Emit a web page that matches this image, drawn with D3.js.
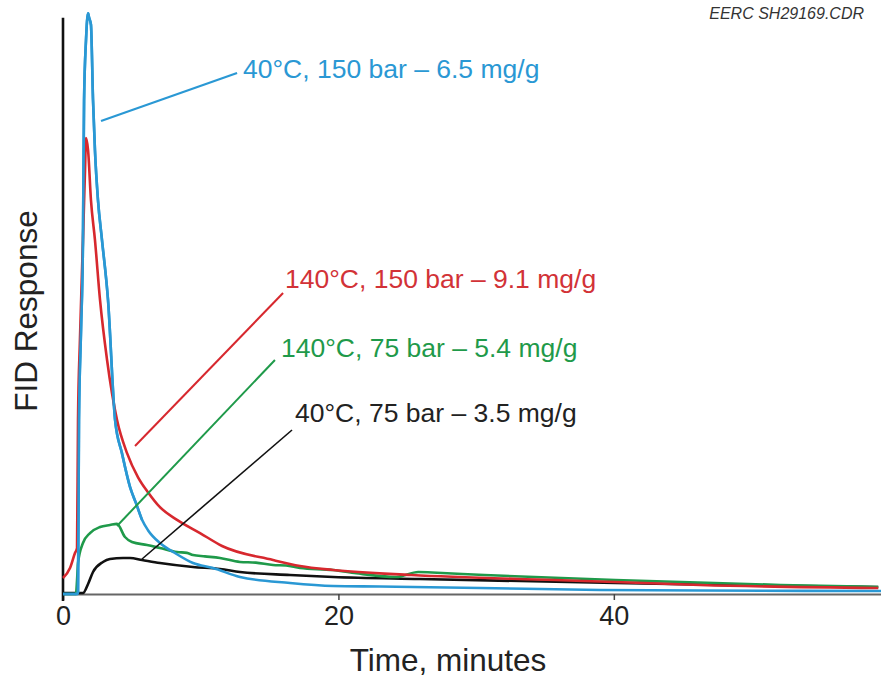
<!DOCTYPE html>
<html><head><meta charset="utf-8">
<script src="https://cdn.jsdelivr.net/npm/d3@7"></script>
<style>
html,body{margin:0;padding:0;background:#fff;}
svg{display:block;font-family:"Liberation Sans",Arial,Helvetica,sans-serif;}
</style></head>
<body>
<svg id="chart" width="881" height="681"></svg>
<script>
// ---- data (time in minutes, FID response in arbitrary units) ----
const blueT  = [0,1.02,1.09,1.16,1.31,1.45,1.53,1.67,1.82,1.89,2.03,2.18,2.32,2.54,2.83,3.27,3.78,4.28,4.87,5.30,5.74,6.17,7.04,8.13,9.44,10.89,12.85,16.48,19.61,23.0,30.3,39.0,46.3,59.4];
const blueV  = [0,0,0.3,30.3,45.9,61.6,85.9,96.3,101.0,100.3,99.0,85.9,77.2,68.5,61.6,51.1,30.3,24.5,18.6,15.8,12.9,11.1,8.87,7.13,5.39,4.52,2.96,1.91,1.39,1.30,1.04,0.70,0.61,0.52];

const redT   = [0,0.51,0.87,1.02,1.09,1.23,1.45,1.60,1.67,1.82,2.03,2.32,2.69,3.20,3.92,4.65,5.45,6.17,7.04,8.28,9.95,11.55,15.25,17.21,19.61,25.3,35.7,40.1,46.26,59.2];
const redV   = [2.78,4.52,7.13,8.0,30.3,44.2,61.6,73.7,79.3,77.2,68.5,61.6,51.1,40.7,30.3,24.5,20.3,17.7,15.1,12.9,10.6,8.35,5.91,4.87,4.17,3.30,2.43,2.09,1.57,1.04];

const greenT = [0,0.94,1.02,1.09,1.45,1.96,2.69,3.41,3.92,4.50,5.01,6.10,7.04,8.28,9.0,9.44,10.3,11.40,12.85,14.0,15.25,16.2,17.21,19.61,21.3,24.2,25.8,26.8,30.6,40.1,52.1,59.2];
const greenV = [0,0,2.4,5.39,8.87,10.6,11.65,12.0,12.2,9.91,9.04,8.52,8.0,7.30,7.15,6.78,6.55,6.26,5.57,5.45,5.04,4.95,4.52,4.17,3.6,2.96,3.83,3.74,3.30,2.43,1.57,1.22];

const blackT = [0,1.45,1.82,2.18,2.90,3.41,4.36,4.87,5.74,7.04,9.44,11.40,12.85,16.48,19.61,25.92,40.1,48.0,59.2];
const blackV = [0.17,0.17,1.74,3.83,5.57,6.09,6.26,6.26,5.91,5.39,4.70,4.35,3.83,3.30,2.96,2.61,1.91,1.57,1.22];

const xTicks = [0, 20, 40];

const labels = ["40°C, 150 bar – 6.5 mg/g", "140°C, 150 bar – 9.1 mg/g", "140°C, 75 bar – 5.4 mg/g", "40°C, 75 bar – 3.5 mg/g"];
// leader lines: start on curve -> end near label (data units)
const leaderStartT = [2.76, 5.23, 3.92, 5.74];
const leaderStartV = [82.26, 25.74, 11.83, 6.09];
const leaderEndT   = [12.64, 15.98, 15.39, 16.63];
const leaderEndV   = [90.6, 52.35, 40.7, 28.52];
const labelT       = [13.07, 16.12, 15.83, 16.85];
const labelV       = [89.74, 53.2, 41.2, 29.9];

// ---- styling ----
const colors     = ["#2a98d4", "#d7282e", "#1f9a4a", "#111111"];
const textColors = ["#2a98d4", "#d23237", "#1f9a4a", "#222222"];
const leaderW    = [2.2, 2.0, 2.0, 1.6];

const svg = d3.select("#chart");
const x = d3.scaleLinear().domain([0, 59.4]).range([63, 881]);
const y = d3.scaleLinear().domain([0, 100]).range([594, 19]);

// x axis
const xAxis = svg.append("g").attr("transform", `translate(0,${y(0)})`)
  .call(d3.axisBottom(x).tickValues(xTicks).tickSize(6).tickSizeOuter(0).tickFormat(d3.format("d")));
xAxis.select(".domain").attr("stroke", "#666").attr("stroke-width", 2);
xAxis.selectAll(".tick line").attr("stroke", "#444").attr("stroke-width", 1.5);
xAxis.selectAll(".tick text").attr("font-size", 27).attr("fill", "#222")
  .attr("font-family", "'Liberation Sans',Arial,sans-serif").attr("y", 31).attr("dy", 0);

// y axis (line only)
const yAxis = svg.append("g").attr("transform", `translate(${x(0)},0)`)
  .call(d3.axisLeft(y).tickValues([]).tickSizeOuter(0));
yAxis.select(".domain").attr("stroke", "#111").attr("stroke-width", 2.6)
  .attr("d", `M0,${y(0)+7}V${y(100.2)}`);

// curves
const series = [
  {t: blueT, v: blueV},
  {t: redT, v: redV},
  {t: greenT, v: greenV},
  {t: blackT, v: blackV}
];
const line = d3.line().x(d => x(d[0])).y(d => y(d[1])).curve(d3.curveMonotoneX);
const drawOrder = [3, 2, 0, 1];
drawOrder.forEach(i => {
  const s = series[i];
  svg.append("path")
    .datum(s.t.map((t, k) => [t, s.v[k]]))
    .attr("fill", "none")
    .attr("stroke", colors[i])
    .attr("stroke-width", 2.6)
    .attr("stroke-linejoin", "round")
    .attr("d", line);
});
// blue over red near the peak
svg.append("path")
  .datum(blueT.map((t, k) => [t, blueV[k]]).filter(d => d[0] < 6))
  .attr("fill", "none").attr("stroke", colors[0]).attr("stroke-width", 2.6)
  .attr("d", line);

// leader lines + labels
labels.forEach((lab, i) => {
  svg.append("line")
    .attr("x1", x(leaderStartT[i])).attr("y1", y(leaderStartV[i]))
    .attr("x2", x(leaderEndT[i])).attr("y2", y(leaderEndV[i]))
    .attr("stroke", colors[i]).attr("stroke-width", leaderW[i]);
  svg.append("text")
    .attr("x", x(labelT[i])).attr("y", y(labelV[i]))
    .attr("font-size", 26.5).attr("fill", textColors[i])
    .text(lab);
});

// axis titles
svg.append("text").attr("x", 448).attr("y", 671).attr("text-anchor", "middle")
  .attr("font-size", 31.5).attr("fill", "#222").text("Time, minutes");
svg.append("text").attr("transform", "translate(37,311) rotate(-90)").attr("text-anchor", "middle")
  .attr("font-size", 31.5).attr("fill", "#222").text("FID Response");

// file tag
svg.append("text").attr("x", 864).attr("y", 19).attr("text-anchor", "end")
  .attr("font-size", 16).attr("font-style", "italic").attr("fill", "#333")
  .text("EERC SH29169.CDR");
</script>
</body></html>
